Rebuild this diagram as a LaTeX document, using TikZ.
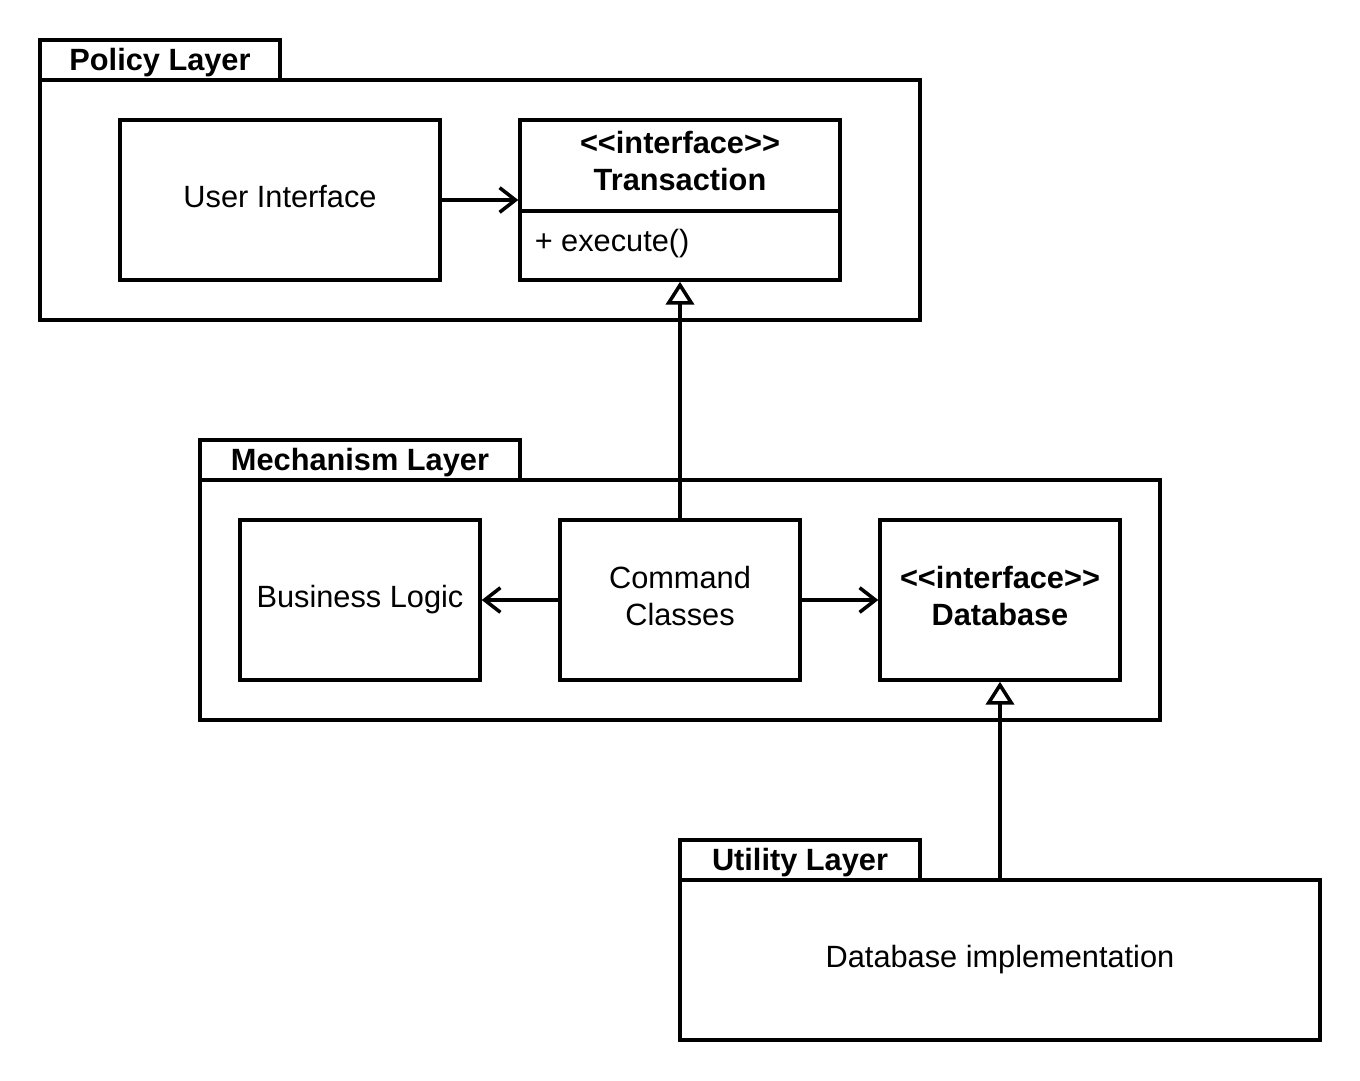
\documentclass[tikz,border=0pt]{standalone}
\usepackage{fontspec}
\setmainfont{Liberation Sans}
\usetikzlibrary{arrows.meta,positioning}

\newcommand{\stereotype}[1]{<\kern0pt<#1>\kern0pt>}

\begin{document}
\begin{tikzpicture}[x=0.02cm, y=-0.02cm, line width=2pt,
    font=\fontsize{17.5}{21}\selectfont,
    classbox/.style={draw, minimum width=#1, minimum height=3.2cm, align=center, inner sep=0pt, text depth=0.16cm},
    pkgbody/.style={draw, inner sep=0pt},
    pkgtab/.style={draw, minimum height=0.8cm, inner sep=0pt, text height=0.56cm, text depth=0.13cm, font=\fontsize{17.5}{21}\selectfont\bfseries},
    dep/.style={-{Straight Barb[length=9pt,width=14pt]}},
    realize/.style={-{Triangle[open,length=13pt,width=16pt]}}]
    \useasboundingbox (0,0) rectangle (1360,1080);

    % policy layer
    \node[pkgbody, minimum width=17.6cm, minimum height=4.8cm] (policy) at (480,200) {};
    \node[pkgtab, minimum width=4.8cm] (policytab) at (160,60) {Policy Layer};
    \node[classbox=6.4cm] (ui) at (280,200) {User Interface};
    \node[classbox=6.4cm] (trans) at (680,200) {};
    \node[font=\fontsize{17.5}{21}\selectfont\bfseries, align=center] (transname) at (680,161) {\stereotype{interface}\\Transaction};
    \coordinate (divider) at (680,211);
    \draw (trans.west |- divider) -- (trans.east |- divider);
    \node[anchor=west, inner sep=0pt] (execute) at (533,244) {+ execute()};

    % mechanism layer
    \node[pkgbody, minimum width=19.2cm, minimum height=4.8cm] (mechanism) at (680,600) {};
    \node[pkgtab, minimum width=6.4cm] (mechanismtab) at (360,460) {Mechanism Layer};
    \node[classbox=4.8cm] (logic) at (360,600) {Business Logic};
    \node[classbox=4.8cm] (cmd) at (680,600) {Command\\Classes};
    \node[classbox=4.8cm, font=\fontsize{17.5}{21}\selectfont\bfseries] (db) at (1000,600) {\stereotype{interface}\\Database};

    % utility layer
    \node[pkgbody, minimum width=12.8cm, minimum height=3.2cm] (utility) at (1000,960) {Database implementation};
    \node[pkgtab, minimum width=4.8cm] (utilitytab) at (800,860) {Utility Layer};

    \draw[dep] (ui) -- (trans);
    \draw[realize] (cmd) -- (trans);
    \draw[dep] (cmd) -- (logic);
    \draw[dep] (cmd) -- (db);
    \draw[realize] (utility) -- (db);
\end{tikzpicture}
\end{document}
